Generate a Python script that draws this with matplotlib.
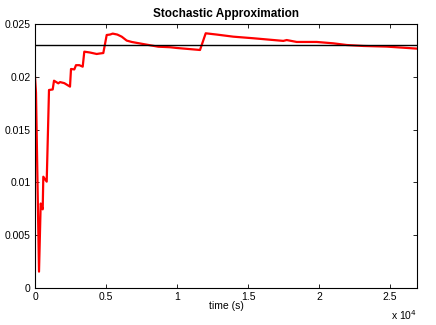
import matplotlib
matplotlib.use("Agg")
import matplotlib.pyplot as plt
from matplotlib.ticker import FuncFormatter

# estimate trace (time in s, value)
t = [0, 70, 282, 401, 542, 585, 824, 986, 1246, 1338, 1641, 1761, 2063, 2465,
     2535, 2768, 2887, 3120, 3359, 3472, 3873, 4345, 4528, 4810, 5049, 5282,
     5472, 5796, 6106, 6458, 6810, 7627, 8683, 9507, 9979, 11620, 12021,
     12796, 13965, 15373, 17486, 17725, 18430, 19838, 21007, 21951, 23120,
     24768, 26880]
est = [0.0200, 0.0185, 0.00155, 0.0080, 0.00745, 0.01054, 0.01007, 0.01875,
       0.0188, 0.01963, 0.01938, 0.0195, 0.0194, 0.01907, 0.02074, 0.0207,
       0.0211, 0.0211, 0.02096, 0.02238, 0.0223, 0.02216, 0.0222, 0.02225,
       0.02396, 0.0240, 0.02409, 0.0240, 0.0238, 0.02343, 0.0233, 0.0231,
       0.02285, 0.0228, 0.02273, 0.02254, 0.02412, 0.0240, 0.0238, 0.02365,
       0.0234, 0.02348, 0.0233, 0.0233, 0.02317, 0.02301, 0.02292, 0.02286,
       0.02267]
true_value = 0.023

plt.rcParams["font.family"] = ["Liberation Sans", "DejaVu Sans"]
plt.rcParams["font.size"] = 7.5

fig = plt.figure(figsize=(4.36, 3.25), dpi=100)
ax = fig.add_axes([35 / 436, 1 - 288 / 325, 382 / 436, 264 / 325])

ax.plot(t, est, color="red", lw=1.6)
ax.axhline(true_value, color="black", lw=1.0)

ax.set_xlim(0, 26900)
ax.set_ylim(0, 0.025)
ax.set_xticks([0, 5000, 10000, 15000, 20000, 25000])
ax.xaxis.set_major_formatter(FuncFormatter(lambda v, p: f"{v / 1e4:g}"))
ax.set_yticks([0, 0.005, 0.01, 0.015, 0.02, 0.025])
ax.yaxis.set_major_formatter(FuncFormatter(lambda v, p: f"{v:g}"))
ax.tick_params(direction="in", top=True, right=True, length=3, width=0.6, pad=3)
for s in ax.spines.values():
    s.set_linewidth(0.8)

ax.set_title("Stochastic Approximation", fontweight="bold", fontsize=8.5, pad=5)
ax.set_xlabel("time (s)", labelpad=-1)
ax.text(1.0, -0.075, r"x 10$^4$", transform=ax.transAxes, ha="right", va="top")

fig.savefig("out.png", dpi=100)
